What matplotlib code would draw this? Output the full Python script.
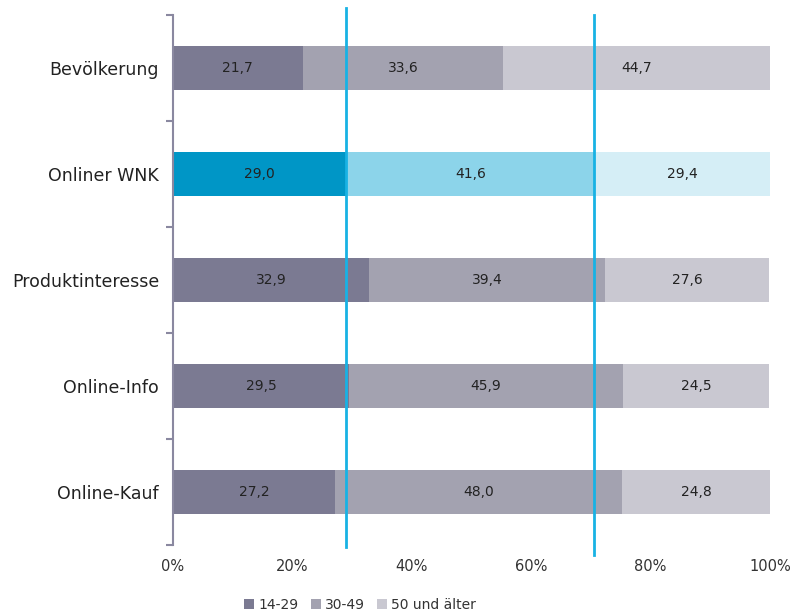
import matplotlib.pyplot as plt
import numpy as np

categories = ['Bevölkerung', 'Onliner WNK', 'Produktinteresse', 'Online-Info', 'Online-Kauf']
age_groups = ['14-29', '30-49', '50 und älter']
share_14_29 = [21.7, 29.0, 32.9, 29.5, 27.2]
share_30_49 = [33.6, 41.6, 39.4, 45.9, 48.0]
share_50_plus = [44.7, 29.4, 27.6, 24.5, 24.8]
xticks = [0, 20, 40, 60, 80, 100]

plt.rcParams['font.family'] = ['DejaVu Sans']

grey = ['#7b7a92', '#a3a2b0', '#c9c8d1']
blue = ['#0096c6', '#8cd4ea', '#d5eef6']
highlight = 1  # Onliner WNK row
line_color = '#18b2e4'
spine_color = '#8a88a0'

fig = plt.figure(figsize=(7.9, 6.16), dpi=100)
ax = fig.add_axes([0.219, 0.1153, 0.7557, 0.8603])

y = np.arange(len(categories))
series = [share_14_29, share_30_49, share_50_plus]
left = np.zeros(len(categories))
for k, vals in enumerate(series):
    vals = np.array(vals)
    colors = [blue[k] if i == highlight else grey[k] for i in range(len(categories))]
    ax.barh(y, vals, left=left, height=0.41, color=colors, label=age_groups[k])
    for i in range(len(categories)):
        ax.text(left[i] + vals[i] / 2, y[i], f'{vals[i]:.1f}'.replace('.', ','),
                ha='center', va='center', fontsize=10, color='#222222')
    left += vals

# reference lines at the Onliner WNK segment boundaries
b1 = share_14_29[highlight]
b2 = share_14_29[highlight] + share_30_49[highlight]
ax.plot([b1, b1], [-0.566, 4.52], color=line_color, lw=2, clip_on=False, zorder=5)
ax.plot([b2, b2], [-0.5, 4.594], color=line_color, lw=2, clip_on=False, zorder=5)

ax.set_xlim(0, 100)
ax.set_ylim(4.5, -0.5)
ax.set_xticks(xticks)
ax.set_xticklabels([f'{t}%' for t in xticks], fontsize=10.5, color='#333333')
ax.tick_params(axis='x', length=0, pad=10)

ax.set_yticks(y)
ax.set_yticklabels(categories, fontsize=12.5, color='#222222')
ax.set_yticks(np.arange(-0.5, len(categories)), minor=True)
ax.tick_params(axis='y', which='major', length=0, pad=10)
ax.tick_params(axis='y', which='minor', length=5, width=1.5, color=spine_color)

for s in ['top', 'right', 'bottom']:
    ax.spines[s].set_visible(False)
ax.spines['left'].set_color(spine_color)
ax.spines['left'].set_linewidth(1.5)

fig.legend(loc='center', bbox_to_anchor=(0.456, 0.018), ncol=3, frameon=False,
           fontsize=10, handlelength=0.7, handleheight=0.7, handletextpad=0.3,
           columnspacing=0.9, labelcolor='#333333')

fig.savefig('out.png', dpi=100)
